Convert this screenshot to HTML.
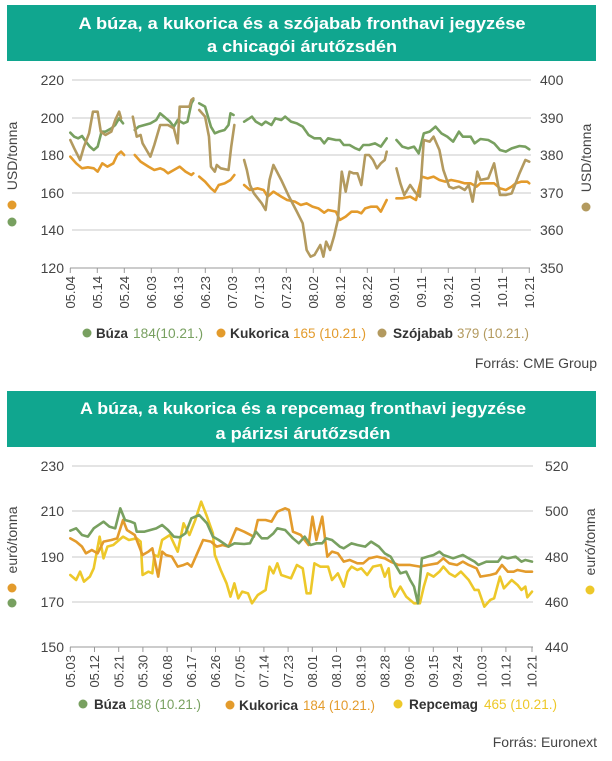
<!DOCTYPE html>
<html><head><meta charset="utf-8"><style>
html,body{margin:0;padding:0;background:#fff}
svg{display:block}
text{font-family:"Liberation Sans",sans-serif}
</style></head><body>
<svg width="612" height="761" viewBox="0 0 612 761" xmlns="http://www.w3.org/2000/svg">
<rect x="7" y="5" width="589" height="56" fill="#10a68f"/>
<text x="302" y="29" text-anchor="middle" fill="#fff" font-size="17" font-weight="bold" textLength="447" lengthAdjust="spacingAndGlyphs">A búza, a kukorica és a szójabab fronthavi jegyzése</text>
<text x="302" y="52" text-anchor="middle" fill="#fff" font-size="17" font-weight="bold" textLength="190" lengthAdjust="spacingAndGlyphs">a chicagói árutőzsdén</text>

<g stroke="#c8c8c8" stroke-width="1">
<line x1="72" y1="80" x2="531" y2="80"/><line x1="72" y1="118" x2="531" y2="118"/><line x1="72" y1="155" x2="531" y2="155"/><line x1="72" y1="193" x2="531" y2="193"/><line x1="72" y1="230" x2="531" y2="230"/>
</g>
<g stroke="#999" stroke-width="1">
<line x1="70" y1="268" x2="530" y2="268"/>
<line x1="70.3" y1="268" x2="70.3" y2="273"/><line x1="97.3" y1="268" x2="97.3" y2="273"/><line x1="124.3" y1="268" x2="124.3" y2="273"/><line x1="151.3" y1="268" x2="151.3" y2="273"/><line x1="178.3" y1="268" x2="178.3" y2="273"/><line x1="205.3" y1="268" x2="205.3" y2="273"/><line x1="232.3" y1="268" x2="232.3" y2="273"/><line x1="259.3" y1="268" x2="259.3" y2="273"/><line x1="286.3" y1="268" x2="286.3" y2="273"/><line x1="313.3" y1="268" x2="313.3" y2="273"/><line x1="340.3" y1="268" x2="340.3" y2="273"/><line x1="367.3" y1="268" x2="367.3" y2="273"/><line x1="394.3" y1="268" x2="394.3" y2="273"/><line x1="421.3" y1="268" x2="421.3" y2="273"/><line x1="448.3" y1="268" x2="448.3" y2="273"/><line x1="475.3" y1="268" x2="475.3" y2="273"/><line x1="502.3" y1="268" x2="502.3" y2="273"/><line x1="529.3" y1="268" x2="529.3" y2="273"/>
</g>
<g font-size="14" fill="#444" text-anchor="end">
<text x="64" y="85">220</text><text x="64" y="123">200</text><text x="64" y="160">180</text><text x="64" y="198">160</text><text x="64" y="235">140</text><text x="64" y="273">120</text>
</g>
<g font-size="14" fill="#444">
<text x="540" y="85">400</text><text x="540" y="123">390</text><text x="540" y="160">380</text><text x="540" y="198">370</text><text x="540" y="235">360</text><text x="540" y="273">350</text>
</g>
<g font-size="13" fill="#444" text-anchor="end">
<text transform="translate(75,276) rotate(-90)">05.04</text><text transform="translate(102,276) rotate(-90)">05.14</text><text transform="translate(129,276) rotate(-90)">05.24</text><text transform="translate(156,276) rotate(-90)">06.03</text><text transform="translate(183,276) rotate(-90)">06.13</text><text transform="translate(210,276) rotate(-90)">06.23</text><text transform="translate(237,276) rotate(-90)">07.03</text><text transform="translate(264,276) rotate(-90)">07.13</text><text transform="translate(291,276) rotate(-90)">07.23</text><text transform="translate(318,276) rotate(-90)">08.02</text><text transform="translate(345,276) rotate(-90)">08.12</text><text transform="translate(372,276) rotate(-90)">08.22</text><text transform="translate(399,276) rotate(-90)">09.01</text><text transform="translate(426,276) rotate(-90)">09.11</text><text transform="translate(453,276) rotate(-90)">09.21</text><text transform="translate(480,276) rotate(-90)">10.01</text><text transform="translate(507,276) rotate(-90)">10.11</text><text transform="translate(534,276) rotate(-90)">10.21</text>
</g>
<text transform="translate(17,156) rotate(-90)" font-size="14" fill="#444" text-anchor="middle">USD/tonna</text>
<circle cx="12" cy="205" r="4.5" fill="#e39b2c"/><circle cx="12" cy="222" r="4.5" fill="#78a060"/>
<text transform="translate(591,158) rotate(-90)" font-size="14" fill="#444" text-anchor="middle">USD/tonna</text>
<circle cx="586" cy="207" r="4.5" fill="#b39a5f"/>

<g transform="translate(0,60) scale(0.3906,0.3333)" fill="none" stroke-width="2.6" stroke-linejoin="round" stroke-linecap="round">
<g stroke="#78a060">
<polyline vector-effect="non-scaling-stroke" points="180,218 190,230 200,235 210,228 220,245 230,260 240,270 250,260 260,215 270,215 285,205 295,195 305,175 315,190"/>
<polyline vector-effect="non-scaling-stroke" points="345,210 355,200 370,195 385,190 400,180 410,160 420,170 435,185 445,200 455,180 470,190 480,185 490,130 495,120"/>
<polyline vector-effect="non-scaling-stroke" points="510,130 525,140 540,200 550,220 560,215 575,210 585,195 590,160 598,165"/>
<polyline vector-effect="non-scaling-stroke" points="625,185 645,170 655,185 670,195 680,185 695,195 705,175 720,180 730,170 745,185 760,190 775,200 790,225 805,235 820,235 830,250 840,235 860,240 870,240 880,255 895,255 910,265 920,270 930,255 945,255 960,250 975,260 990,235"/>
<polyline vector-effect="non-scaling-stroke" points="1015,240 1030,260 1045,265 1060,260 1072,280 1085,220 1100,215 1115,200 1130,220 1145,230 1160,245 1175,215 1185,230 1205,230 1215,250 1230,237 1250,240 1265,250 1280,270 1295,275 1310,265 1330,258 1345,260 1355,268"/>
</g>
<g stroke="#e39b2c">
<polyline vector-effect="non-scaling-stroke" points="180,290 195,310 210,325 225,322 240,325 250,335 262,310 275,320 290,310 300,285 310,275 318,285"/>
<polyline vector-effect="non-scaling-stroke" points="345,285 360,305 380,320 395,330 410,325 420,330 430,340 445,330 460,320 475,335 490,345 495,340"/>
<polyline vector-effect="non-scaling-stroke" points="510,350 525,365 540,385 550,395 560,375 575,370 590,360 600,345"/>
<polyline vector-effect="non-scaling-stroke" points="625,375 640,390 660,385 675,390 685,410 700,395 720,410 735,420 755,425 770,435 785,430 800,440 815,445 830,458 840,450 860,455 870,480 885,470 900,455 915,455 925,460 935,445 950,440 965,440 975,455 990,420"/>
<polyline vector-effect="non-scaling-stroke" points="1015,415 1030,415 1050,410 1065,420 1080,350 1095,355 1110,350 1125,360 1140,365 1155,360 1175,365 1190,370 1205,370 1220,380 1230,370 1250,370 1265,370 1280,385 1295,390 1310,380 1320,370 1335,365 1350,365 1355,370"/>
</g>
<g stroke="#b39a5f">
<polyline vector-effect="non-scaling-stroke" points="180,240 190,265 205,300 215,260 228,220 238,155 250,155 258,215 270,225 285,215 295,180 305,155 310,175"/>
<polyline vector-effect="non-scaling-stroke" points="340,170 350,230 360,225 365,250 375,270 385,290 395,255 410,195 430,195 445,205 455,250 460,140 475,140 485,140 490,120 495,115"/>
<polyline vector-effect="non-scaling-stroke" points="510,150 525,170 535,230 540,320 550,335 555,315 565,325 585,330 592,260 600,195"/>
<polyline vector-effect="non-scaling-stroke" points="625,300 632,330 640,375 650,400 660,415 670,430 680,450 690,360 700,315 720,360 740,410 760,455 775,490 785,570 795,590 805,585 820,555 828,590 835,545 845,570 855,530 865,480 875,335 885,395 895,335 905,340 915,340 925,375 935,285 945,285 955,300 965,325 975,310 985,300 990,275"/>
<polyline vector-effect="non-scaling-stroke" points="1015,325 1025,370 1035,405 1050,375 1065,400 1075,410 1085,240 1100,245 1110,230 1125,270 1135,330 1150,380 1160,385 1175,380 1190,390 1200,375 1210,425 1222,335 1230,360 1250,355 1265,310 1280,405 1295,405 1310,400 1330,340 1345,300 1355,305"/>
</g>
</g>

<circle cx="87" cy="333" r="4.5" fill="#78a060"/>
<text x="96" y="338" font-size="14" font-weight="bold" fill="#333" textLength="32" lengthAdjust="spacingAndGlyphs">Búza</text>
<text x="133" y="338" font-size="14" fill="#78a060" textLength="70" lengthAdjust="spacingAndGlyphs">184(10.21.)</text>
<circle cx="221" cy="333" r="4.5" fill="#e39b2c"/>
<text x="230" y="338" font-size="14" font-weight="bold" fill="#333" textLength="59" lengthAdjust="spacingAndGlyphs">Kukorica</text>
<text x="293" y="338" font-size="14" fill="#e39b2c" textLength="73" lengthAdjust="spacingAndGlyphs">165 (10.21.)</text>
<circle cx="382" cy="333" r="4.5" fill="#b39a5f"/>
<text x="393" y="338" font-size="14" font-weight="bold" fill="#333" textLength="60" lengthAdjust="spacingAndGlyphs">Szójabab</text>
<text x="457" y="338" font-size="14" fill="#b39a5f" textLength="72" lengthAdjust="spacingAndGlyphs">379 (10.21.)</text>
<text x="597" y="368" font-size="14" fill="#444" text-anchor="end">Forrás: CME Group</text>

<rect x="7" y="391" width="589" height="56" fill="#10a68f"/>
<text x="303" y="414" text-anchor="middle" fill="#fff" font-size="17" font-weight="bold" textLength="446" lengthAdjust="spacingAndGlyphs">A búza, a kukorica és a repcemag fronthavi jegyzése</text>
<text x="303" y="439" text-anchor="middle" fill="#fff" font-size="17" font-weight="bold" textLength="175" lengthAdjust="spacingAndGlyphs">a párizsi árutőzsdén</text>

<g stroke="#c8c8c8" stroke-width="1">
<line x1="72" y1="466" x2="533" y2="466"/><line x1="72" y1="511" x2="533" y2="511"/><line x1="72" y1="557" x2="533" y2="557"/><line x1="72" y1="602" x2="533" y2="602"/>
</g>
<g stroke="#999" stroke-width="1">
<line x1="70" y1="647" x2="533" y2="647"/>
<line x1="70.3" y1="647" x2="70.3" y2="652"/><line x1="94.5" y1="647" x2="94.5" y2="652"/><line x1="118.7" y1="647" x2="118.7" y2="652"/><line x1="142.9" y1="647" x2="142.9" y2="652"/><line x1="167.1" y1="647" x2="167.1" y2="652"/><line x1="191.3" y1="647" x2="191.3" y2="652"/><line x1="215.5" y1="647" x2="215.5" y2="652"/><line x1="239.7" y1="647" x2="239.7" y2="652"/><line x1="263.9" y1="647" x2="263.9" y2="652"/><line x1="288.1" y1="647" x2="288.1" y2="652"/><line x1="312.3" y1="647" x2="312.3" y2="652"/><line x1="336.5" y1="647" x2="336.5" y2="652"/><line x1="360.7" y1="647" x2="360.7" y2="652"/><line x1="384.9" y1="647" x2="384.9" y2="652"/><line x1="409.1" y1="647" x2="409.1" y2="652"/><line x1="433.3" y1="647" x2="433.3" y2="652"/><line x1="457.5" y1="647" x2="457.5" y2="652"/><line x1="481.7" y1="647" x2="481.7" y2="652"/><line x1="505.9" y1="647" x2="505.9" y2="652"/><line x1="532" y1="647" x2="532" y2="652"/>
</g>
<g font-size="14" fill="#444" text-anchor="end">
<text x="64" y="471">230</text><text x="64" y="516">210</text><text x="64" y="562">190</text><text x="64" y="607">170</text><text x="64" y="652">150</text>
</g>
<g font-size="14" fill="#444">
<text x="545" y="471">520</text><text x="545" y="516">500</text><text x="545" y="562">480</text><text x="545" y="607">460</text><text x="545" y="652">440</text>
</g>
<g font-size="13" fill="#444" text-anchor="end">
<text transform="translate(75,655) rotate(-90)">05.03</text><text transform="translate(99.2,655) rotate(-90)">05.12</text><text transform="translate(123.4,655) rotate(-90)">05.21</text><text transform="translate(147.6,655) rotate(-90)">05.30</text><text transform="translate(171.8,655) rotate(-90)">06.08</text><text transform="translate(196,655) rotate(-90)">06.17</text><text transform="translate(220.2,655) rotate(-90)">06.26</text><text transform="translate(244.4,655) rotate(-90)">07.05</text><text transform="translate(268.6,655) rotate(-90)">07.14</text><text transform="translate(292.8,655) rotate(-90)">07.23</text><text transform="translate(317,655) rotate(-90)">08.01</text><text transform="translate(341.2,655) rotate(-90)">08.10</text><text transform="translate(365.4,655) rotate(-90)">08.19</text><text transform="translate(389.6,655) rotate(-90)">08.28</text><text transform="translate(413.8,655) rotate(-90)">09.06</text><text transform="translate(438,655) rotate(-90)">09.15</text><text transform="translate(462.2,655) rotate(-90)">09.24</text><text transform="translate(486.4,655) rotate(-90)">10.03</text><text transform="translate(510.6,655) rotate(-90)">10.12</text><text transform="translate(536.5,655) rotate(-90)">10.21</text>
</g>
<text transform="translate(17,540) rotate(-90)" font-size="14" fill="#444" text-anchor="middle">euró/tonna</text>
<circle cx="12" cy="588" r="4.5" fill="#e39b2c"/><circle cx="12" cy="603" r="4.5" fill="#78a060"/>
<text transform="translate(595,542) rotate(-90)" font-size="14" fill="#444" text-anchor="middle">euró/tonna</text>
<circle cx="590" cy="590" r="4.5" fill="#edc82a"/>

<g transform="translate(0,440) scale(0.3906,0.3333)" fill="none" stroke-width="2.6" stroke-linejoin="round" stroke-linecap="round">
<polyline stroke="#edc82a" vector-effect="non-scaling-stroke" points="180,405 195,420 205,395 215,425 230,410 240,385 255,290 265,355 275,320 290,315 300,305 315,290 330,300 350,295 360,305 365,405 380,395 390,400 395,345 405,350 415,300 435,285 455,335 470,250 485,285 500,240 515,185 530,230 545,280 550,345 565,390 580,430 590,470 600,430 610,475 620,455 635,460 645,490 660,465 680,450 690,380 700,400 710,370 720,405 745,415 760,375 775,385 785,460 795,460 805,370 820,380 840,380 850,420 865,400 880,440 890,395 900,380 915,390 925,385 940,405 955,380 975,375 985,410 995,385 1000,440 1010,470 1025,440 1040,470 1060,490 1075,490 1085,440 1095,400 1110,410 1125,395 1135,380 1150,400 1165,410 1180,395 1200,420 1215,450 1225,450 1240,500 1255,480 1265,475 1280,410 1290,445 1310,420 1325,435 1335,450 1345,440 1350,472 1362,455"/>
<polyline stroke="#e39b2c" vector-effect="non-scaling-stroke" points="180,295 195,305 210,320 220,340 235,330 250,340 265,305 285,300 300,295 315,240 325,270 345,285 365,345 380,335 390,325 405,410 415,335 425,345 440,350 455,380 470,375 480,370 490,380 505,340 520,300 540,305 555,320 570,315 585,320 605,265 625,275 650,290 660,240 680,240 695,245 710,215 730,205 740,210 750,275 770,285 790,315 800,230 810,300 825,230 838,350 850,335 865,340 880,365 895,360 915,370 930,370 945,355 965,350 985,355 1000,365 1020,375 1035,375 1050,375 1075,380 1095,375 1120,370 1135,355 1150,370 1170,375 1185,365 1200,375 1220,385 1230,410 1255,405 1270,400 1285,375 1300,395 1315,395 1325,390 1345,395 1362,395"/>
<polyline stroke="#78a060" vector-effect="non-scaling-stroke" points="180,272 195,265 210,285 225,290 240,265 265,245 280,260 295,265 308,205 320,240 335,245 345,250 350,275 370,275 385,270 400,265 415,255 430,270 445,290 460,292 475,280 490,235 510,225 530,250 545,290 560,300 585,320 600,310 625,312 640,310 655,275 670,295 685,295 700,280 710,265 730,270 750,295 765,310 780,290 795,315 810,310 825,310 835,295 850,300 870,320 880,325 900,310 915,315 935,320 950,305 970,320 985,340 1000,350 1010,370 1025,400 1040,395 1050,420 1060,440 1070,490 1080,355 1095,350 1110,345 1125,335 1135,345 1160,355 1185,345 1200,355 1215,365 1225,375 1245,365 1275,365 1285,350 1300,355 1320,350 1335,365 1345,360 1362,365"/>
</g>

<circle cx="83" cy="704" r="4.5" fill="#78a060"/>
<text x="94" y="709" font-size="14" font-weight="bold" fill="#333" textLength="32" lengthAdjust="spacingAndGlyphs">Búza</text>
<text x="129" y="709" font-size="14" fill="#78a060" textLength="72" lengthAdjust="spacingAndGlyphs">188 (10.21.)</text>
<circle cx="230" cy="705" r="4.5" fill="#e39b2c"/>
<text x="239" y="710" font-size="14" font-weight="bold" fill="#333" textLength="59" lengthAdjust="spacingAndGlyphs">Kukorica</text>
<text x="303" y="710" font-size="14" fill="#e39b2c" textLength="72" lengthAdjust="spacingAndGlyphs">184 (10.21.)</text>
<circle cx="398" cy="704" r="4.5" fill="#edc82a"/>
<text x="409" y="709" font-size="14" font-weight="bold" fill="#333" textLength="69" lengthAdjust="spacingAndGlyphs">Repcemag</text>
<text x="484" y="709" font-size="14" fill="#edc82a" textLength="73" lengthAdjust="spacingAndGlyphs">465 (10.21.)</text>
<text x="597" y="747" font-size="14" fill="#444" text-anchor="end">Forrás: Euronext</text>
</svg>
</body></html>
